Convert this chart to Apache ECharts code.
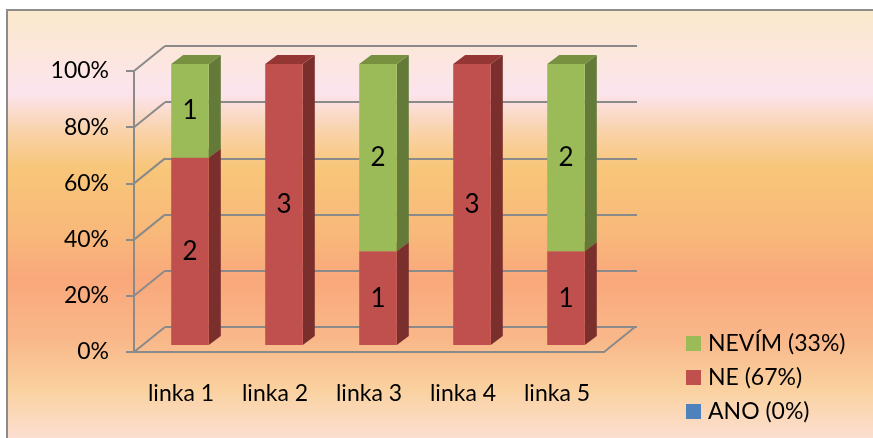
<!DOCTYPE html>
<html>
<head>
<meta charset="utf-8">
<script src="https://cdn.jsdelivr.net/npm/echarts@6/dist/echarts.min.js"></script>
<style>
  html, body { margin: 0; padding: 0; background: #fff; }
  #chart { width: 873px; height: 438px; }
</style>
</head>
<body>
<div id="chart"></div>
<script>
// data
const categories = ['linka 1', 'linka 2', 'linka 3', 'linka 4', 'linka 5'];
const ano = [0, 0, 0, 0, 0];
const ne = [2, 3, 1, 3, 1];
const nevim = [1, 0, 2, 0, 2];
const seriesNames = ['ANO (0%)', 'NE (67%)', 'NEVÍM (33%)'];
const yTicks = [0, 20, 40, 60, 80, 100];

const counts = [ano, ne, nevim];
const totals = categories.map((c, i) => ano[i] + ne[i] + nevim[i]);

// stacked percent segments: [cat, start, end, count]
function segments(k) {
  return categories.map((c, i) => {
    let start = 0;
    for (let j = 0; j < k; j++) start += counts[j][i] / totals[i] * 100;
    const end = start + counts[k][i] / totals[i] * 100;
    return [i, start, end, counts[k][i]];
  });
}

const colors = [
  { front: '#4F81BD', side: '#385D8A', top: '#3A6091' },
  { front: '#C0504D', side: '#7A2F2D', top: '#943734' },
  { front: '#9BBB59', side: '#637A38', top: '#779140' }
];

const DEPTH = [31, -25];
const OFF = [9, -7];
const SIDE = [12, -9];
const lineCol = '#8a8a8a';
const FONT = 'Lato';

function barItem(k) {
  return function (params, api) {
    const cat = api.value(0), s = api.value(1), e = api.value(2), n = api.value(3);
    if (!n) return null;
    const bw = api.size([1, 0])[0] * 0.4;
    const p0 = api.coord([cat, s]);
    const p1 = api.coord([cat, e]);
    const xl = p0[0] + OFF[0] - bw / 2, xr = xl + bw;
    const yb = p0[1] + OFF[1], yt = p1[1] + OFF[1];
    const c = colors[k];
    return {
      type: 'group',
      children: [
        { type: 'polygon', shape: { points: [[xr, yt], [xr + SIDE[0], yt + SIDE[1]], [xr + SIDE[0], yb + SIDE[1]], [xr, yb]] }, style: { fill: c.side } },
        { type: 'polygon', shape: { points: [[xl, yt], [xr, yt], [xr + SIDE[0], yt + SIDE[1]], [xl + SIDE[0], yt + SIDE[1]]] }, style: { fill: c.top } },
        { type: 'rect', shape: { x: xl, y: yt, width: bw, height: yb - yt }, style: { fill: c.front } },
        { type: 'text', style: { text: String(n), x: (xl + xr) / 2, y: (yt + yb) / 2, align: 'center', verticalAlign: 'middle', fill: '#000', font: '26px ' + FONT } }
      ]
    };
  };
}

const chart = echarts.init(document.getElementById('chart'));

const series = seriesNames.map((name, k) => ({
  name: name,
  type: 'custom',
  xAxisIndex: 0,
  yAxisIndex: 0,
  z: 5,
  itemStyle: { color: colors[k].front },
  renderItem: barItem(k),
  data: segments(k)
}));

// side wall and floor edges
series.push({
  type: 'custom',
  xAxisIndex: 0,
  yAxisIndex: 0,
  z: 1,
  silent: true,
  renderItem: function (params, api) {
    const v = api.value(0);
    const cs = params.coordSys;
    const y = api.coord([0, v])[1];
    const kids = [{ type: 'line', shape: { x1: cs.x, y1: y, x2: cs.x + DEPTH[0], y2: y + DEPTH[1] }, style: { stroke: lineCol, lineWidth: 2 } }];
    if (v === 0) {
      const xr = cs.x + cs.width;
      kids.push({ type: 'line', shape: { x1: xr, y1: y, x2: xr + DEPTH[0], y2: y + DEPTH[1] }, style: { stroke: lineCol, lineWidth: 2 } });
    }
    return { type: 'group', children: kids };
  },
  data: yTicks.map(v => [v])
});

chart.setOption({
  animation: false,
  graphic: [{
    type: 'rect',
    z: -10,
    shape: { x: 7, y: 10, width: 900, height: 440 },
    style: {
      stroke: '#8c8c8c',
      lineWidth: 2,
      fill: new echarts.graphic.LinearGradient(0, 0, 0, 1, [
        { offset: 0, color: '#FBE9CB' },
        { offset: 0.12, color: '#FCE6E0' },
        { offset: 0.19, color: '#FCE4EE' },
        { offset: 0.28, color: '#F9D2A8' },
        { offset: 0.36, color: '#F8C679' },
        { offset: 0.51, color: '#F8B87A' },
        { offset: 0.61, color: '#F9A87B' },
        { offset: 0.75, color: '#F9B88A' },
        { offset: 0.86, color: '#FAD19F' },
        { offset: 1, color: '#FCE2DE' }
      ])
    }
  }],
  legend: {
    orient: 'vertical',
    left: 686,
    top: 331,
    padding: 0,
    icon: 'rect',
    itemWidth: 15,
    itemHeight: 15,
    itemGap: 9,
    data: ['NEVÍM (33%)', 'NE (67%)', 'ANO (0%)'],
    textStyle: { fontFamily: FONT, fontSize: 23, color: '#000', lineHeight: 23, padding: [2, 0, 0, 2] }
  },
  grid: [
    { left: 134, right: 269, top: 71, bottom: 86 },
    { left: 165, right: 236, top: 46, bottom: 111 }
  ],
  xAxis: [
    {
      type: 'category', gridIndex: 0, data: categories,
      axisLine: { lineStyle: { color: lineCol, width: 2 } },
      axisTick: { length: 8, lineStyle: { color: lineCol, width: 2 } },
      axisLabel: { margin: 30, color: '#000', fontFamily: FONT, fontSize: 23 }
    },
    { type: 'category', gridIndex: 1, data: categories, show: false }
  ],
  yAxis: [
    {
      type: 'value', gridIndex: 0, min: 0, max: 100, interval: 20,
      axisLine: { show: true, lineStyle: { color: lineCol, width: 2 } },
      axisTick: { show: true, length: 8, lineStyle: { color: lineCol, width: 2 } },
      splitLine: { show: false },
      axisLabel: { formatter: '{value}%', margin: 25, color: '#000', fontFamily: FONT, fontSize: 23 }
    },
    {
      type: 'value', gridIndex: 1, min: 0, max: 100, interval: 20,
      axisLine: { show: false }, axisTick: { show: false }, axisLabel: { show: false },
      splitLine: { show: true, lineStyle: { color: lineCol, width: 2 } }
    }
  ],
  series: series
});
</script>
</body>
</html>
